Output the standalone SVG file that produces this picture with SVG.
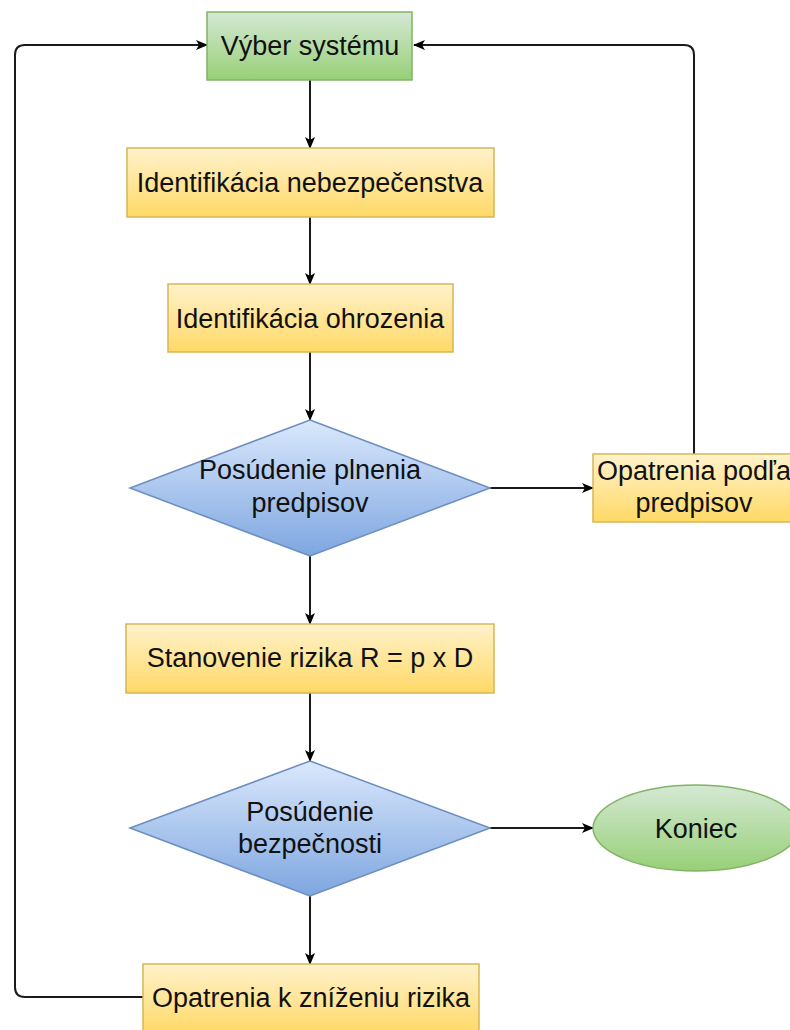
<svg xmlns="http://www.w3.org/2000/svg" width="790" height="1030" viewBox="0 0 790 1030">
  <defs>
    <linearGradient id="gGreen" x1="0" y1="0" x2="0" y2="1">
      <stop offset="0" stop-color="#d5e8d4"/>
      <stop offset="1" stop-color="#97d077"/>
    </linearGradient>
    <linearGradient id="gYellow" x1="0" y1="0" x2="0" y2="1">
      <stop offset="0" stop-color="#fff2cc"/>
      <stop offset="1" stop-color="#ffd966"/>
    </linearGradient>
    <linearGradient id="gBlue" x1="0" y1="0" x2="0" y2="1">
      <stop offset="0" stop-color="#dae8fc"/>
      <stop offset="1" stop-color="#7ea6e0"/>
    </linearGradient>
    <marker id="arrow" viewBox="0 0 12 10" refX="11" refY="5" markerWidth="12" markerHeight="10" markerUnits="userSpaceOnUse" orient="auto">
      <path d="M0,0 L12,5 L0,10 L3,5 Z" fill="#000"/>
    </marker>
  </defs>
  <style>
    .lbl { font-family: "Liberation Sans", Arial, sans-serif; font-size: 27px; fill: #111; text-anchor: middle; }
    .green { fill: url(#gGreen); stroke: #82b366; stroke-width: 1.5; }
    .yellow { fill: url(#gYellow); stroke: #d6b656; stroke-width: 1.5; }
    .blue { fill: url(#gBlue); stroke: #6c8ebf; stroke-width: 1.5; }
    .edge { fill: none; stroke: #1a1a1a; stroke-width: 2; }
    .arr { marker-end: url(#arrow); }
  </style>

  <!-- connectors -->
  <g id="connectors">
    <path class="edge arr" d="M310,80 L310,148"/>
    <path class="edge arr" d="M310,217 L310,284"/>
    <path class="edge arr" d="M310,352 L310,420"/>
    <path class="edge arr" d="M490,488 L593,488"/>
    <path class="edge arr" d="M694,454 L694,55 Q694,45 684,45 L414,45"/>
    <path class="edge arr" d="M310,556 L310,624"/>
    <path class="edge arr" d="M310,693 L310,761"/>
    <path class="edge arr" d="M490,828 L593,828"/>
    <path class="edge arr" d="M310,896 L310,964"/>
    <path class="edge arr" d="M143,997 L25,997 Q15,997 15,987 L15,55 Q15,45 25,45 L207,45"/>
  </g>

  <g id="vyber-systemu">
    <rect class="green" x="207" y="12" width="205" height="68"/>
    <text class="lbl" x="310" y="55">Výber systému</text>
  </g>

  <g id="identifikacia-nebezpecenstva">
    <rect class="yellow" x="127" y="148" width="367" height="69"/>
    <text class="lbl" x="310" y="192">Identifikácia nebezpečenstva</text>
  </g>

  <g id="identifikacia-ohrozenia">
    <rect class="yellow" x="168" y="284" width="285" height="68"/>
    <text class="lbl" x="310" y="328">Identifikácia ohrozenia</text>
  </g>

  <g id="posudenie-plnenia">
    <polygon class="blue" points="310,420 490,488 310,556 130,488"/>
    <text class="lbl" x="310" y="479">Posúdenie plnenia</text>
    <text class="lbl" x="310" y="512">predpisov</text>
  </g>

  <g id="opatrenia-podla-predpisov">
    <rect class="yellow" x="593" y="454" width="202" height="68"/>
    <text class="lbl" x="694" y="480">Opatrenia podľa</text>
    <text class="lbl" x="694" y="512">predpisov</text>
  </g>

  <g id="stanovenie-rizika">
    <rect class="yellow" x="126" y="624" width="368" height="69"/>
    <text class="lbl" x="310" y="667">Stanovenie rizika R = p x D</text>
  </g>

  <g id="posudenie-bezpecnosti">
    <polygon class="blue" points="310,761 490,828 310,896 130,828"/>
    <text class="lbl" x="310" y="821">Posúdenie</text>
    <text class="lbl" x="310" y="853">bezpečnosti</text>
  </g>

  <g id="koniec">
    <ellipse class="green" cx="696" cy="828" rx="103" ry="43"/>
    <text class="lbl" x="696" y="838">Koniec</text>
  </g>

  <g id="opatrenia-k-znizeniu-rizika">
    <rect class="yellow" x="143" y="964" width="336" height="70"/>
    <text class="lbl" x="311" y="1007">Opatrenia k zníženiu rizika</text>
  </g>
</svg>
